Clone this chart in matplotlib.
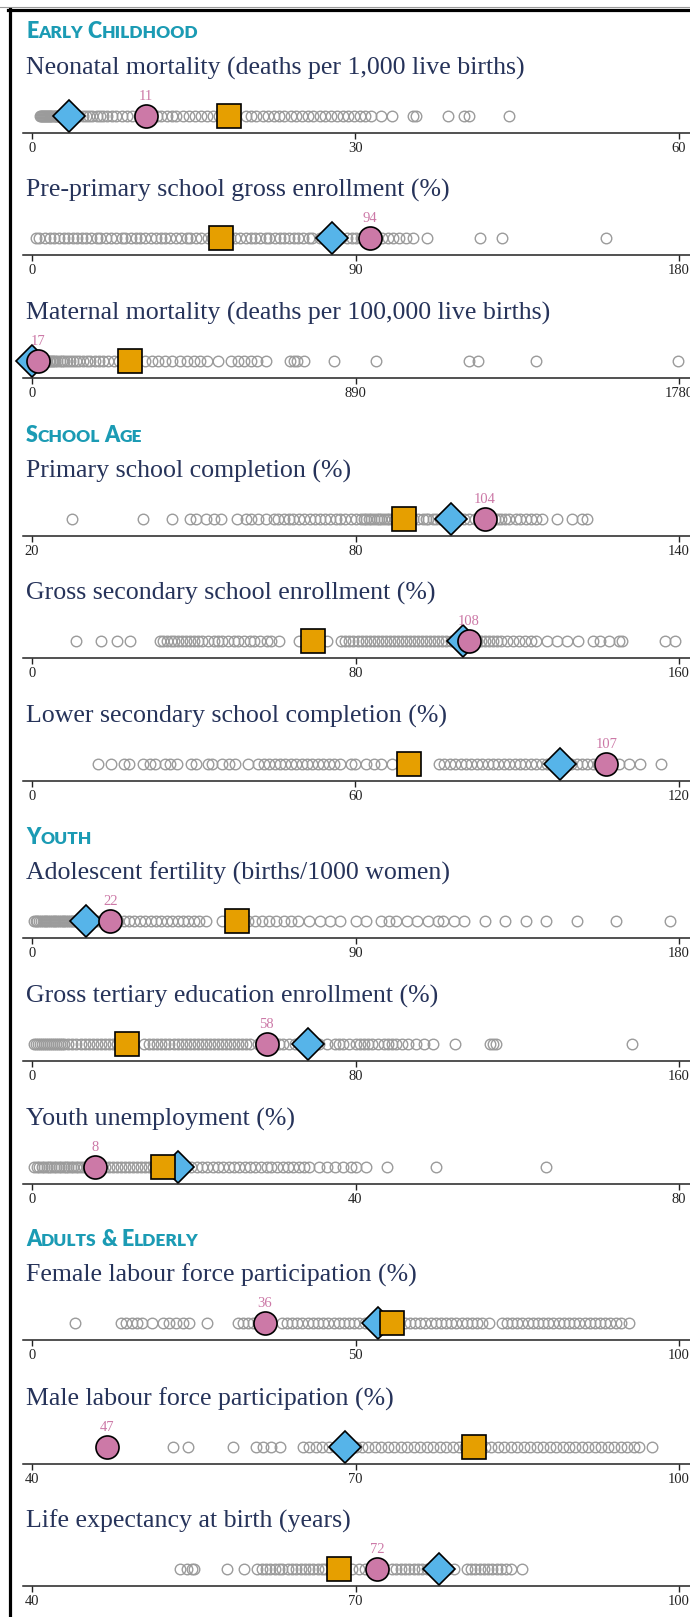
import matplotlib
matplotlib.use("Agg")
import matplotlib.pyplot as plt
from matplotlib.lines import Line2D

W, H = 690, 1617

# ---- data -------------------------------------------------------------
titles = [
    "Neonatal mortality (deaths per 1,000 live births)",
    "Pre-primary school gross enrollment (%)",
    "Maternal mortality (deaths per 100,000 live births)",
    "Primary school completion (%)",
    "Gross secondary school enrollment (%)",
    "Lower secondary school completion (%)",
    "Adolescent fertility (births/1000 women)",
    "Gross tertiary education enrollment (%)",
    "Youth unemployment (%)",
    "Female labour force participation (%)",
    "Male labour force participation (%)",
    "Life expectancy at birth (years)",
]
sections = {0: "EARLY CHILDHOOD", 3: "SCHOOL AGE", 6: "YOUTH", 9: "ADULTS & ELDERLY"}

ranges = [(0, 60), (0, 180), (0, 1780), (20, 140), (0, 160), (0, 120),
          (0, 180), (0, 160), (0, 80), (0, 100), (40, 100), (40, 100)]
tick_labels = [["0", "30", "60"], ["0", "90", "180"], ["0", "890", "1780"],
               ["20", "80", "140"], ["0", "80", "160"], ["0", "60", "120"],
               ["0", "90", "180"], ["0", "80", "160"], ["0", "40", "80"],
               ["0", "50", "100"], ["40", "70", "100"], ["40", "70", "100"]]

neonatal = [0.7, 0.8, 0.9, 1.0, 1.1, 1.2, 1.3, 1.4, 1.5, 1.6, 1.7, 1.8, 1.9, 2.0, 2.1, 2.2,
            2.3, 2.4, 2.5, 2.6, 2.7, 2.8, 2.9, 3.0, 3.2, 3.4, 3.6, 3.8, 4.0, 4.2, 4.4, 4.7,
            5.0, 5.3, 5.6, 6.0, 6.3, 6.6, 7.0, 7.4, 7.8, 8.3, 8.8, 9.3, 9.9, 11.6, 12.0,
            12.5, 13.0, 13.4, 14.0, 14.6, 15.1, 15.7, 16.2, 16.8, 17.3, 19.8, 20.3, 20.8,
            21.4, 21.9, 22.4, 22.9, 23.4, 24.0, 24.5, 25.0, 25.6, 26.1, 26.7, 27.2, 27.7,
            28.3, 28.8, 29.3, 29.9, 30.4, 30.9, 31.4, 32.4, 33.4, 35.3, 35.6, 38.6, 40.1,
            40.5, 44.2]
preprimary = [1, 2, 3.5, 5, 6, 7.5, 9, 10, 11.5, 12.5, 14, 15, 16.5, 18, 19, 20.5, 22, 23.5,
              25, 26, 27.5, 29, 30, 31.5, 33, 34.5, 36, 37, 38.5, 40, 41.5, 43, 44, 45.5,
              47, 49, 50, 55, 56.5, 58, 59.5, 61, 62, 63.5, 65, 66, 67.5, 69, 70, 71.5, 73,
              74, 75.5, 77, 78, 80, 81.5, 83, 85, 86, 87.5, 89, 90, 91.5, 93, 95, 96, 97.5,
              99, 100.5, 102, 104, 106, 110, 124.7, 130.7, 159.8]
maternal = [1, 2, 3, 4, 5, 6, 7, 8, 9, 10, 11, 12, 13, 15, 17, 19, 21, 23, 26, 29, 32, 35,
            38, 42, 46, 50, 54, 59, 64, 70, 76, 82, 89, 96, 104, 112, 120, 130, 140, 150,
            160, 172, 184, 196, 210, 225, 240, 255, 285, 311, 330, 348, 366, 384, 408,
            427, 445, 463, 481, 511, 548, 566, 584, 602, 620, 644, 711, 720, 729, 747,
            832, 947, 1201, 1226, 1387, 1777]
primary = [27.5, 40.5, 46, 49.3, 50.4, 52.3, 53.7, 55, 58.1, 59.6, 60.7, 61.9, 63.4, 64.8,
           65.7, 66.7, 67.6, 68.5, 69.5, 70.5, 71.5, 72.4, 73.4, 74.3, 75.3, 76.3, 77.2,
           78.1, 79.1, 80, 81, 81.5, 82, 82.5, 82.9, 83.4, 83.9, 84.3, 84.8, 85.3, 85.8,
           86.3, 86.8, 87.3, 87.8, 88.2, 88.7, 89.2, 90.6, 91.5, 92.5, 93, 93.4, 94.4, 95,
           95.6, 96.3, 97.2, 98.2, 99, 100.1, 101, 102.1, 103, 104, 104.5, 105, 105.9,
           106.5, 107, 107.8, 108.5, 109.7, 110.5, 111.6, 112.5, 113.5, 114.5, 117.4,
           120.2, 122.1, 123]
secondary = [11.0, 17.1, 20.9, 24.2, 31.6, 32.5, 33.4, 34.3, 35.2, 36.1, 37, 38, 39, 40, 41,
             42, 43.5, 45, 46, 47, 48.5, 50, 51, 52.5, 54, 55, 56.5, 58, 59, 61, 66, 68.5,
             71, 73, 76.3, 77.5, 78.5, 79.5, 80.5, 81.5, 82.5, 83.5, 84.5, 85.5, 86.5, 87.5,
             88.5, 89.5, 90.5, 91.5, 92.5, 93.5, 94.5, 95.5, 96.5, 97.5, 98.5, 99.5, 100.5,
             101.5, 102.5, 103.5, 104.3, 106, 109, 110, 111, 112, 113, 114, 115, 116, 117.5,
             119, 120.5, 122, 123.5, 124.7, 127.3, 129.8, 132.4, 134.9, 138.7, 140.5,
             142.6, 145.2, 145.9, 156.6, 158.9]
lowersec = [12.2, 14.7, 17, 18, 20.5, 21.8, 22.8, 24.7, 25.6, 26.9, 29.4, 30.4, 32.7, 33.3,
            35.2, 36.5, 37.7, 40, 41.9, 43, 44, 45, 46, 47, 48, 49, 50, 51, 52, 53, 54, 55,
            56, 57.2, 59.1, 60, 62, 63.5, 64.8, 66.8, 75.4, 76.5, 77.5, 78.5, 79.5, 80.5,
            81.5, 82.5, 83.5, 84.5, 85.5, 86.5, 87.5, 88.5, 89.5, 90.5, 91.5, 92.5, 93.5,
            94.5, 95.5, 96.5, 97.4, 99, 100, 101, 102, 103, 104, 105, 107, 108.8, 110.7,
            112.7, 116.7]
adolescent = [0.5, 1, 1.5, 2, 2.5, 3, 3.5, 4, 4.5, 5, 5.5, 6, 6.5, 7, 7.5, 8, 8.5, 9, 9.5,
              10, 10.5, 11, 11.5, 12, 12.5, 13, 14, 15, 16, 17, 18, 19, 20, 21, 23, 24,
              25.5, 27, 28.5, 30, 31.5, 33, 34.5, 36, 37.5, 39, 40.5, 42, 43.5, 45, 46.5,
              48.5, 52.8, 55, 58, 60, 62, 64, 66, 68, 70, 72, 74, 77, 80, 82.9, 85.8, 90.1,
              92.9, 97.1, 99.4, 101.4, 104.3, 107.2, 110.1, 113, 114.4, 117.3, 120.2, 125.9,
              131.7, 137.4, 143.1, 151.5, 162.4, 177.6]
tertiary = [0.5, 1, 1.5, 2, 2.5, 3, 3.5, 4, 4.5, 5, 5.5, 6, 6.5, 7, 7.5, 8, 9, 10, 11, 12, 13,
            14, 15, 16, 17, 18, 19, 20, 21, 22, 22.8, 27.8, 29, 30, 31, 32, 33, 34, 35, 36,
            37, 38, 39, 40, 41, 42, 43, 44, 45, 46, 47, 48, 49, 50, 51, 52, 53, 54, 55.9, 61,
            62, 63.5, 65, 66.5, 68.6, 71, 73, 75, 76, 77, 78.5, 80, 81, 82, 83, 84, 85.5, 87,
            88, 89, 90, 91.5, 93, 95, 97, 99.2, 104.6, 113.2, 114, 114.8, 148.4]
youth_unemp = [0.3, 0.6, 0.9, 1.2, 1.5, 1.8, 2.1, 2.4, 2.7, 3.0, 3.3, 3.6, 3.9, 4.2, 4.5,
               4.8, 5.1, 5.4, 5.7, 6.0, 6.4, 6.8, 7.2, 7.5, 8.5, 9, 9.5, 10, 10.5, 11, 11.5,
               12, 12.5, 13, 13.5, 14, 14.5, 15, 15.5, 15.8, 19, 19.7, 20.4, 21, 21.7, 22.4,
               23, 23.6, 24.3, 25, 25.6, 26.3, 27, 27.6, 28.3, 29, 29.6, 30.3, 31, 31.6,
               32.3, 33, 33.6, 34.3, 35.5, 36.5, 37.5, 38.5, 39.4, 40, 41.3, 43.9, 50, 63.6]
female_lfp = [6.6, 13.8, 14.6, 15.4, 16.2, 17, 18.6, 20.2, 21.2, 22.2, 23.3, 24.3, 27, 31.8,
              32.6, 33.4, 34.2, 35, 35.9, 38.6, 39.4, 40.2, 41, 41.8, 42.6, 43.4, 44.2, 45,
              45.8, 46.6, 47.4, 48.2, 49, 49.8, 50.6, 51.5, 52.3, 53.2, 54, 55, 56, 57.6,
              58.4, 59.2, 60, 60.8, 61.6, 62.4, 63.2, 64, 64.8, 65.6, 66.4, 67.2, 68, 68.8,
              69.6, 70.6, 72.6, 73.4, 74.2, 75, 75.8, 76.6, 77.4, 78.2, 79, 79.8, 80.6, 81.4,
              82.2, 83, 83.8, 84.6, 85.4, 86.2, 87, 87.8, 88.6, 89.4, 90.2, 91, 92.3]
male_lfp = [53.1, 54.5, 58.6, 60.8, 61.4, 62.2, 63.0, 65.1, 65.7, 66.3, 66.9, 67.5, 68.1,
            68.7, 69.3, 70, 70.6, 71.2, 71.8, 72.4, 73, 73.6, 74.2, 74.8, 75.4, 76, 76.6,
            77.2, 77.8, 78.4, 79, 79.6, 80.2, 80.8, 81.4, 82, 82.6, 83.2, 83.8, 84.4, 85,
            85.6, 86.2, 86.8, 87.4, 88, 88.6, 89.2, 89.8, 90.4, 91, 91.6, 92.2, 92.8, 93.4,
            94, 94.6, 95.2, 95.8, 96.3, 97.5]
life_exp = [53.7, 54.4, 54.8, 55.0, 58.1, 59.7, 60.9, 61.3, 61.7, 62.1, 62.5, 62.9, 63.2,
            63.7, 64.1, 64.5, 64.9, 65.3, 65.7, 66.1, 66.5, 66.9, 67.2, 68, 68.8, 69.7, 70.3,
            70.9, 73.4, 73.8, 74.2, 74.6, 75, 75.4, 75.8, 76.2, 76.6, 77, 77.4, 77.8, 78.2,
            78.6, 79.1, 80.3, 80.7, 81.1, 81.5, 81.9, 82.3, 82.7, 83.1, 83.5, 84, 84.4, 85.4]

all_countries = [neonatal, preprimary, maternal, primary, secondary, lowersec,
                 adolescent, tertiary, youth_unemp, female_lfp, male_lfp, life_exp]

country_vals = [10.6, 94, 17, 104, 108, 106.5, 21.8, 58, 7.8, 36, 47, 72]
country_labels = ["11", "94", "17", "104", "108", "107", "22", "58", "8", "36", "47", "72"]
square_vals = [18.3, 52.5, 269, 89, 69.4, 70, 57, 23.4, 16.2, 55.6, 81, 68.5]
diamond_vals = [3.4, 83.5, 0, 97.8, 106.5, 98, 14.9, 68.3, 18.1, 53.5, 69, 77.7]

axis_y = [133, 255, 378, 536, 658, 781, 938, 1061, 1184, 1340, 1464, 1586]

PINK, ORANGE, BLUE = "#CC79A7", "#E69F00", "#56B4E9"
NAVY, TEAL = "#26335a", "#1b9bb4"
SERIF = "Liberation Serif"


def fx(px):
    return px / W


def fy(py):
    return 1 - py / H


fig = plt.figure(figsize=(W / 100, H / 100), dpi=100)
fig.patch.set_facecolor("white")
renderer = fig.canvas.get_renderer()

# frame lines
fig.add_artist(Line2D([0, 1], [fy(7), fy(7)], color="#9a9a9a", lw=0.8))
fig.add_artist(Line2D([fx(8), 1], [fy(10.5), fy(10.5)], color="black", lw=2.3))
fig.add_artist(Line2D([fx(9.5), fx(9.5)], [fy(9.5), 0], color="black", lw=2.3))


def small_caps(x, y, text, big=15.5, small=12.5):
    # fake small caps: first letter of each word large, rest smaller
    for word in text.split(" "):
        parts = [(word[0], big), (word[1:], small)]
        for s, size in parts:
            if not s:
                continue
            t = fig.text(fx(x), fy(y), s, fontsize=size, family="Lato", weight="heavy",
                         color=TEAL, va="baseline", ha="left")
            x += t.get_window_extent(renderer=renderer).width
        x += 4.5


for i in range(12):
    ay = axis_y[i]
    lo, hi = ranges[i]
    span = hi - lo
    ax = fig.add_axes([fx(23), fy(ay), fx(667), 40 / H])
    ax.set_xlim(lo - 9 / 647 * span, lo + 658 / 647 * span)
    ax.set_ylim(-1, 1.35)
    for side in ["top", "left", "right"]:
        ax.spines[side].set_visible(False)
    ax.spines["bottom"].set_linewidth(1.1)
    ax.spines["bottom"].set_color("#222222")
    ax.set_yticks([])
    ax.set_xticks([lo, (lo + hi) / 2, hi], labels=tick_labels[i])
    ax.tick_params(axis="x", length=4.5, width=1, pad=2, labelsize=10.5, colors="#222222")
    for lab in ax.get_xticklabels():
        lab.set_family(SERIF)
    ax.patch.set_alpha(0)

    vals = all_countries[i]
    ax.plot(vals, [0] * len(vals), "o", ms=7.6, mfc="none", mec="#9b9b9b", mew=1.0,
            clip_on=False)
    ax.plot([diamond_vals[i]], [0], "D", ms=16.3, mfc=BLUE, mec="black", mew=1.2,
            clip_on=False)
    ax.plot([square_vals[i]], [0], "s", ms=16.6, mfc=ORANGE, mec="black", mew=1.2,
            clip_on=False)
    ax.plot([country_vals[i]], [0], "o", ms=16.6, mfc=PINK, mec="black", mew=1.2,
            clip_on=False)
    ax.annotate(country_labels[i], (country_vals[i], 0), xytext=(0, 11.2),
                textcoords="offset points", ha="center", va="baseline",
                fontsize=10.5, family=SERIF, color=PINK)

    fig.text(fx(26), fy(ay - 58), titles[i], fontsize=18.6, family=SERIF, color=NAVY,
             va="baseline", ha="left")
    if i in sections:
        small_caps(26, ay - 58 - 36.5, sections[i])

fig.savefig("out.png", dpi=100, facecolor="white")
